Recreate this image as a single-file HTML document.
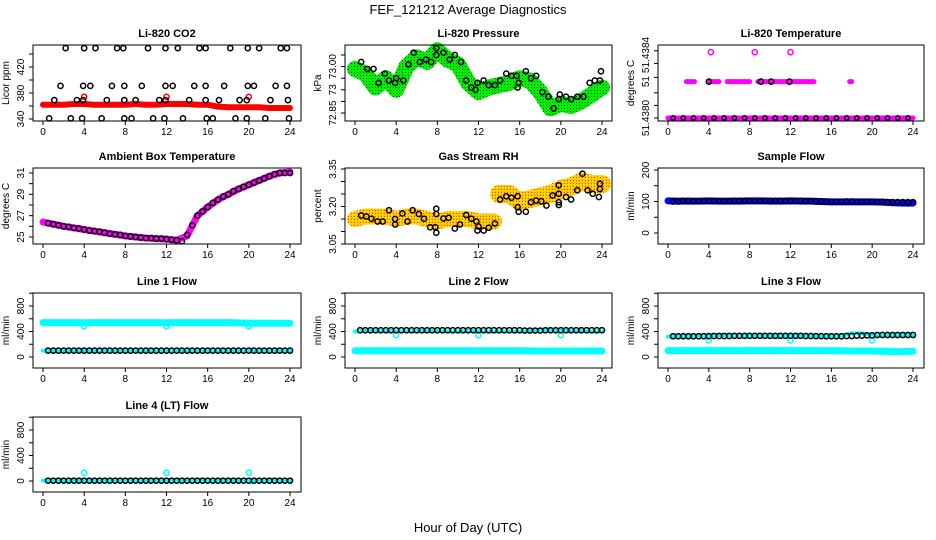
<!DOCTYPE html>
<html><head><meta charset="utf-8">
<style>
html,body{margin:0;padding:0;background:#fff;}
svg{display:block;font-family:"Liberation Sans",Arial,sans-serif;}
</style></head>
<body>
<svg id="chart" width="936" height="540" viewBox="0 0 936 540" xmlns="http://www.w3.org/2000/svg">
<defs>
<pattern id="greenDots" width="3" height="3" patternUnits="userSpaceOnUse"><rect width="3" height="3" fill="#00ee00"/><rect width="1" height="1" fill="#005000"/></pattern>
<pattern id="rhDots" width="3" height="3" patternUnits="userSpaceOnUse"><rect width="3" height="3" fill="#ffc800"/><rect width="1" height="1" fill="#ff4000"/><rect x="1" y="1" width="1" height="1" fill="#ffff00"/></pattern>
</defs>
<text x="468" y="14" font-size="13" text-anchor="middle">FEF_121212  Average Diagnostics</text>
<text x="468" y="532" font-size="13" text-anchor="middle">Hour of Day (UTC)</text>
</svg>
<script>
const NS='http://www.w3.org/2000/svg';
const svg=document.getElementById('chart');
const HOURS=[0,1,2,3,4,5,6,7,8,9,10,11,12,13,14,15,16,17,18,19,20,21,22,23,24];
const HALF=[0.5,1.5,2.5,3.5,4.5,5.5,6.5,7.5,8.5,9.5,10.5,11.5,12.5,13.5,14.5,15.5,16.5,17.5,18.5,19.5,20.5,21.5,22.5,23.5];
const XTICKS=[0,4,8,12,16,20,24];

// CO2
const co2Band=[362,362,362,363,363,362,362,362,362,363,362,362,363,363,363,362,362,359,358,358,358,358,357,357,357];
const co2OutHours=[4,12,20];
const co2OutVals=[374,374,374];
const co2CircHours=[2.2,4.0,5.1,7.2,7.8,10.2,11.9,13.1,15.2,15.8,18.2,19.9,21.0,23.1,23.7,
1.7,3.9,4.6,6.7,7.9,9.6,11.9,12.6,14.7,15.8,17.6,19.9,20.5,22.6,23.7,
1.1,3.3,3.9,6.2,7.9,9.0,11.3,11.9,14.2,15.8,17.1,19.1,19.8,22.1,23.8,
0.6,2.7,3.8,5.7,7.9,8.6,10.7,11.8,13.6,15.9,16.5,18.7,19.8,21.6,23.9];
const co2CircVals=[449,449,449,449,449,449,449,449,449,449,449,449,449,449,449,
391,391,391,391,391,391,391,391,391,391,391,391,391,391,391,
369,369,369,369,369,369,369,369,369,369,369,369,369,369,369,
341,341,341,341,341,341,341,341,341,341,341,341,341,341,341];

// Pressure
const presBand=[73.04,73.02,72.96,73.00,72.95,73.05,73.09,73.07,73.12,73.08,73.06,72.98,72.94,72.96,72.97,72.98,73.00,72.99,72.94,72.87,72.89,72.88,72.90,72.93,72.96];
const presCircHours=[0.6,1.2,1.8,2.3,2.9,3.3,3.9,4.0,4.7,5.2,5.7,6.3,6.9,7.4,7.9,7.9,8.6,9.2,9.7,10.3,10.8,11.3,11.7,11.9,12.5,13.0,13.6,14.1,14.7,15.2,15.7,15.8,15.9,16.6,17.1,17.6,18.2,18.8,19.3,19.8,19.9,20.5,21.0,21.6,22.2,22.8,23.3,23.8,23.9];
const presCircVals=[73.07,73.04,73.04,72.98,73.02,72.99,72.98,73.00,72.99,73.06,73.11,73.07,73.08,73.07,73.13,73.10,73.11,73.08,73.10,73.07,72.99,72.96,72.95,72.98,72.99,72.97,72.97,72.99,73.02,73.01,73.01,72.96,72.98,73.03,73.00,73.01,72.94,72.92,72.87,72.91,72.93,72.92,72.91,72.92,72.92,72.98,72.99,72.99,73.03];

// Li-820 temperature
const tBottomBand=[51.4380,51.4380];
const tBottomBandHours=[0,24];
const tMidStart=[1.8,4.0,5.8,8.8,17.8];
const tMidEnd=[2.6,5.0,8.0,14.3,18.0];
const tMidVal=51.43826;
const tTopHours=[4.2,8.5,12.0];
const tTopVals=[51.43847,51.43847,51.43847];
const tBlackMidHours=[4.0,9.1,10.1,11.9];
const tBlackMidVals=[51.43826,51.43826,51.43826,51.43826];
const tBlackBottom=[51.4380,51.4380,51.4380,51.4380,51.4380,51.4380,51.4380,51.4380,51.4380,51.4380,51.4380,51.4380,51.4380,51.4380,51.4380,51.4380,51.4380,51.4380,51.4380,51.4380,51.4380,51.4380,51.4380,51.4380];

// Ambient box temperature
const ambBand=[26.4,26.2,26.0,25.85,25.7,25.55,25.4,25.25,25.1,25.0,24.9,24.85,24.8,24.7,25.1,27.0,27.8,28.5,29.0,29.5,29.9,30.3,30.7,31.0,31.1];
const ambCirc=[26.3,26.1,25.95,25.8,25.6,25.5,25.3,25.2,25.05,24.95,24.9,24.85,24.75,24.6,26.1,27.4,28.2,28.8,29.3,29.7,30.1,30.5,30.9,31.0];
const ambCirc2=[26.3,26.2,26.0,25.85,25.7,25.55,25.4,25.25,25.1,25.0,24.9,24.85,24.8,24.7,25.2,27.0,27.8,28.5,29.0,29.5,29.9,30.3,30.7,31.0,31.0];

// Gas stream RH
const rhBand1=[3.15,3.16,3.16,3.16,3.15,3.16,3.16,3.15,3.14,3.15,3.15,3.15,3.14,3.14];
const rhBand1Hours=[0,1,2,3,4,5,6,7,8,9,10,11,12,13.5];
const rhBand2=[3.25,3.25,3.22,3.23,3.24,3.25,3.27,3.28,3.30,3.29,3.29];
const rhBand2Hours=[14,15,16,17,18,19,20,21,22,23,24];
const rhCircHours=[0.6,1.1,1.6,2.2,2.7,3.3,3.9,3.9,4.6,5.1,5.6,6.2,6.7,7.3,7.8,7.9,7.9,7.9,8.6,9.1,9.7,10.2,10.8,11.3,11.8,11.9,12.0,12.5,13.0,13.6,14.1,14.7,15.2,15.8,15.8,15.9,16.6,17.1,17.6,18.1,18.6,19.2,19.8,19.8,19.8,19.8,20.5,21.0,21.6,22.1,22.6,23.1,23.7,23.8,23.8];
const rhCircVals=[3.164,3.16,3.151,3.14,3.14,3.185,3.15,3.128,3.172,3.14,3.185,3.17,3.151,3.117,3.117,3.095,3.17,3.191,3.152,3.155,3.112,3.128,3.166,3.151,3.14,3.104,3.12,3.104,3.115,3.132,3.228,3.241,3.235,3.241,3.197,3.179,3.179,3.217,3.224,3.221,3.204,3.244,3.251,3.285,3.217,3.206,3.238,3.228,3.265,3.331,3.265,3.251,3.238,3.291,3.27];

// Sample flow
const sfBand=[102,101,101,101,102,101,101,101,102,102,101,101,102,101,101,100,99,99,99,99,99,98,96,95,95];
const sfCirc=[100,102,101,101,101,101,102,102,101,102,102,101,102,101,100,99,99,100,99,99,99,98,98,98];

// Line flows
const l1Cyan=[540,540,540,540,538,540,540,540,540,540,540,540,538,540,540,540,540,540,540,535,532,530,530,530,530];
const l1Black=[100,100,100,100,100,100,100,100,100,100,100,100,100,100,100,100,100,100,100,100,100,100,100,100];
const l1Dips=[480,480,480];
const l2Cyan=[98,98,98,98,98,98,98,98,98,98,98,98,98,98,98,98,98,96,95,95,95,95,95,95,95];
const l2CyanUp=[400,410,410,405,400,405,405,410,405,400,400,405,405,400,400,400,400,405,430,425,410,405,405,400,400];
const l2Black=[420,420,420,420,420,420,420,420,420,420,420,420,420,420,420,420,415,415,420,420,420,420,420,420];
const l2Dips=[345,345,345];
const l3Cyan=[100,100,100,100,100,100,100,100,100,100,100,100,100,100,100,100,98,98,95,95,95,90,85,85,90];
const l3CyanUp=[320,325,325,340,340,345,345,340,340,335,335,335,335,335,335,330,330,335,370,370,350,340,345,350,340];
const l3Black=[325,325,325,328,330,330,332,332,332,332,332,332,332,330,328,325,325,330,335,340,345,345,345,345];
const l3Dips=[260,260,260];
const l4Black=[5,5,5,5,5,5,5,5,5,5,5,5,5,5,5,5,5,5,5,5,5,5,5,5];
const l4Cyan=[8,8,8,8,8,8,8,8,8,8,8,8,8,8,8,8,8,8,8,8,8,8,8,8,8];
const l4Out=[130,130,130];
const dipHours=[4,12,20];

function el(tag,attrs,parent){const e=document.createElementNS(NS,tag);for(const k in attrs)e.setAttribute(k,attrs[k]);(parent||svg).appendChild(e);return e;}

function panel(o){
  const g=el('g',{});
  
  
  const x=h=>o.hx0+(o.hx1-o.hx0)*h/24;
  const y=v=>o.p1+(v-o.v1)*(o.p2-o.p1)/(o.v2-o.v1);
  const plot=el('g',{},g);
  
  
  const frame=el('rect',{x:o.bx0,y:o.by0,width:o.bx1-o.bx0,height:o.by1-o.by0,fill:'none',stroke:'#000','stroke-width':1},g);
  
  
  const t=el('text',{x:(o.bx0+o.bx1)/2,y:o.by0-8,'font-size':11,'font-weight':'bold','text-anchor':'middle'},g);
  t.textContent=o.title;
  
  
  el('line',{x1:x(0),x2:x(24),y1:o.by1,y2:o.by1,stroke:'#000'},g);
  XTICKS.forEach(h=>{
    el('line',{x1:x(h),x2:x(h),y1:o.by1,y2:o.by1+4,stroke:'#000'},g);
    const tl=el('text',{x:x(h),y:o.by1+14,'font-size':10,'text-anchor':'middle'},g);
    tl.textContent=h;
    
    
  });
  el('line',{x1:o.bx0,x2:o.bx0,y1:y(o.yticks[0]),y2:y(o.yticks[o.yticks.length-1]),stroke:'#000'},g);
  o.yticks.forEach(v=>el('line',{x1:o.bx0-4,x2:o.bx0,y1:y(v),y2:y(v),stroke:'#000'},g));
  o.ylabels.forEach((v,i)=>{
    const tx=o.bx0-9, ty=y(v);
    const tl=el('text',{x:tx,y:ty,'font-size':10,'text-anchor':'middle',transform:`rotate(-90 ${tx} ${ty})`},g);
    tl.textContent=o.ylabelText?o.ylabelText[i]:v;
    
    
  });
  const yt=o.bx0-24, ym=(o.by0+o.by1)/2;
  const ya=el('text',{x:yt,y:ym,'font-size':10,'text-anchor':'middle',transform:`rotate(-90 ${yt} ${ym})`},g);
  ya.textContent=o.ylab;
  
  
  return {x,y,g:plot};
}
function band(P,hs,vs,stroke,w,name){
  const pl=el('polyline',{points:hs.map((h,i)=>P.x(h)+','+P.y(vs[i])).join(' '),fill:'none',stroke:stroke,'stroke-width':w,'stroke-linejoin':'round','stroke-linecap':'round'},P.g);
  
  
}
function circles(P,hs,vs,color,name,r){
  hs.forEach((h,i)=>{
    const c=el('circle',{cx:P.x(h),cy:P.y(vs[i]),r:r||2.6,fill:'none',stroke:color,'stroke-width':1.5},P.g);
    
    
  });
}

const C1={bx0:33,bx1:301,hx0:43,hx1:290}, C2={bx0:345,bx1:612,hx0:355,hx1:602}, C3={bx0:658,bx1:924,hx0:668,hx1:913};
const R1={by0:45,by1:121},R2={by0:168,by1:244},R3={by0:293,by1:368},R4={by0:417,by1:492};

let P=panel({...C1,...R1,name:'co2-panel',title:'Li-820 CO2',ylab:'Licor ppm',v1:340,p1:119,v2:420,p2:67,yticks:[340,360,380,400,420,440],ylabels:[340,380,420]});
band(P,HOURS,co2Band,'#ff0000',6,'co2-band');
circles(P,co2OutHours,co2OutVals,'#ff0000','co2-red-point');
circles(P,co2CircHours,co2CircVals,'#000','co2-point');

P=panel({...C2,...R1,name:'pressure-panel',title:'Li-820 Pressure',ylab:'kPa',v1:72.85,p1:113,v2:73.10,p2:55,yticks:[72.85,72.90,72.95,73.00,73.05,73.10],ylabels:[72.85,72.95,73.05],ylabelText:['72.85','73','73.00']});
band(P,HOURS,presBand,'url(#greenDots)',16,'pressure-band');
circles(P,presCircHours,presCircVals,'#000','pressure-point');

P=panel({...C3,...R1,name:'li820-temp-panel',title:'Li-820 Temperature',ylab:'degrees C',v1:51.4380,p1:118,v2:51.4385,p2:48,yticks:[51.4380,51.43809,51.43818,51.43829,51.43839,51.43848],ylabels:[51.4380,51.43826,51.43845],ylabelText:['51.4380','51','51.4384']});
band(P,tBottomBandHours,tBottomBand,'#ff00ff',5,'temp-bottom-band');
tMidStart.forEach((s,i)=>band(P,[s,tMidEnd[i]],[tMidVal,tMidVal],'#ff00ff',5,'temp-mid-segment'));
circles(P,tTopHours,tTopVals,'#ff00ff','temp-top-point');
circles(P,HALF,tBlackBottom,'#000','temp-point',2.2);
circles(P,tBlackMidHours,tBlackMidVals,'#000','temp-mid-point');

P=panel({...C1,...R2,name:'ambient-temp-panel',title:'Ambient Box Temperature',ylab:'degrees C',v1:25,p1:237,v2:31,p2:173,yticks:[25,26,27,28,29,30,31],ylabels:[25,27,29,31]});
band(P,HOURS,ambBand,'#ff00ff',7,'ambient-band');
circles(P,HALF,ambCirc,'#000','ambient-point');
circles(P,HOURS.slice(1),ambCirc2.slice(1),'#000','ambient-point');

P=panel({...C2,...R2,name:'rh-panel',title:'Gas Stream RH',ylab:'percent',v1:3.05,p1:244,v2:3.35,p2:169,yticks:[3.05,3.10,3.15,3.20,3.25,3.30,3.35],ylabels:[3.05,3.20,3.35],ylabelText:['3.05','3.20','3.35']});
band(P,rhBand1Hours,rhBand1,'url(#rhDots)',16,'rh-band-early');
band(P,rhBand2Hours,rhBand2,'url(#rhDots)',18,'rh-band-late');
circles(P,rhCircHours,rhCircVals,'#000','rh-point');

P=panel({...C3,...R2,name:'sample-flow-panel',title:'Sample Flow',ylab:'ml/min',v1:0,p1:233,v2:200,p2:170,yticks:[0,50,100,150,200],ylabels:[0,100,200]});
band(P,HOURS,sfBand,'#0000ff',7,'sample-flow-band');
circles(P,HALF,sfCirc,'#000','sample-flow-point');
circles(P,HOURS.slice(1),sfCirc.concat([98]),'#000','sample-flow-point');

const FT=[0,200,400,600,800,1000], FL=[0,400,800];
P=panel({...C1,...R3,name:'line1-flow-panel',title:'Line 1 Flow',ylab:'ml/min',v1:0,p1:357,v2:800,p2:306,yticks:FT,ylabels:FL});
band(P,HOURS,l1Cyan,'#00ffff',7,'line1-cyan-band');
circles(P,dipHours,l1Dips,'#00ffff','line1-cyan-dip');
band(P,[0,24],[100,100],'#00ffff',4,'line1-cyan-low');
circles(P,HALF,l1Black,'#000','line1-point');
circles(P,HOURS.slice(1),l1Black.concat([100]),'#000','line1-point');

P=panel({...C2,...R3,name:'line2-flow-panel',title:'Line 2 Flow',ylab:'ml/min',v1:0,p1:357,v2:800,p2:306,yticks:FT,ylabels:FL});
band(P,HOURS,l2Cyan,'#00ffff',7,'line2-cyan-band');
band(P,HOURS,l2CyanUp,'#00ffff',4,'line2-cyan-upper');
circles(P,dipHours,l2Dips,'#00ffff','line2-cyan-dip');
circles(P,HALF,l2Black,'#000','line2-point');
circles(P,HOURS.slice(1),l2Black.concat([420]),'#000','line2-point');

P=panel({...C3,...R3,name:'line3-flow-panel',title:'Line 3 Flow',ylab:'ml/min',v1:0,p1:357,v2:800,p2:306,yticks:FT,ylabels:FL});
band(P,HOURS,l3Cyan,'#00ffff',7,'line3-cyan-band');
band(P,HOURS,l3CyanUp,'#00ffff',4,'line3-cyan-upper');
circles(P,dipHours,l3Dips,'#00ffff','line3-cyan-dip');
circles(P,HALF,l3Black,'#000','line3-point');
circles(P,HOURS.slice(1),l3Black.concat([345]),'#000','line3-point');

P=panel({...C1,...R4,name:'line4-flow-panel',title:'Line 4 (LT) Flow',ylab:'ml/min',v1:0,p1:481,v2:800,p2:430,yticks:FT,ylabels:FL});
band(P,HOURS,l4Cyan,'#00ffff',4,'line4-cyan-band');
circles(P,dipHours,l4Out,'#00ffff','line4-cyan-outlier');
circles(P,HALF,l4Black,'#000','line4-point');
circles(P,HOURS.slice(1),l4Black.concat([5]),'#000','line4-point');
</script>
</body></html>
